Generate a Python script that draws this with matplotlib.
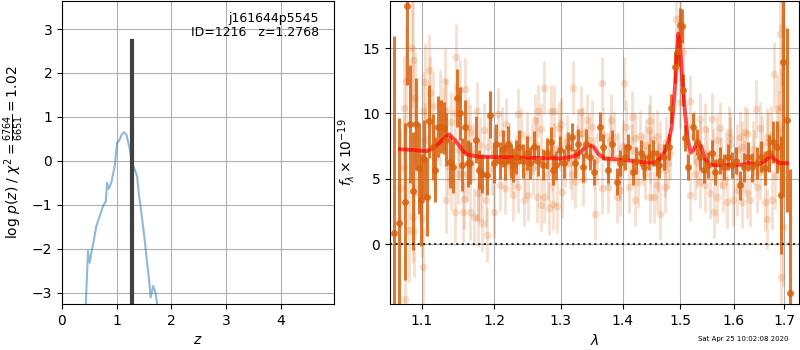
import matplotlib
matplotlib.use("Agg")
import matplotlib.pyplot as plt
from matplotlib.ticker import FixedLocator, FixedFormatter, NullLocator

# ---- p(z) panel ----
z_pz = [0.43, 0.475, 0.506, 0.537, 0.585, 0.628, 0.66, 0.69, 0.75, 0.80, 0.823, 0.854,
        0.90, 0.963, 1.006, 1.04, 1.085, 1.128, 1.177, 1.238, 1.287, 1.33, 1.372, 1.408,
        1.45, 1.51, 1.555, 1.59, 1.62, 1.665, 1.707, 1.756]
logpz = [-3.4, -2.05, -2.32, -2.09, -1.79, -1.48, -1.37, -1.26, -1.03, -0.92, -0.5, -0.64,
         -0.5, -0.12, 0.41, 0.45, 0.58, 0.65, 0.6, 0.26, -0.08, -0.2, -0.35, -0.8,
         -1.18, -1.79, -2.32, -2.7, -3.11, -2.85, -3.0, -3.4]
z_best = 1.2768
pz_top = 2.73
obj_text = "j161644p5545\nID=1216   z=1.2768"
chi2_label = r"log $p(z)$ / $\chi^2=\frac{6764}{6651}=1.02$"

# ---- spectrum panel: dark (first beam) ----
lam_a = [1.064, 1.071, 1.078, 1.081, 1.085, 1.089, 1.093, 1.096, 1.099, 1.103, 1.107, 1.110,
         1.1145, 1.118, 1.122, 1.1265, 1.1295, 1.133, 1.138, 1.142, 1.148, 1.152, 1.1545, 1.1585,
         1.163, 1.166, 1.1735, 1.178, 1.183, 1.190, 1.194, 1.1995, 1.203, 1.2085, 1.213, 1.216,
         1.2205, 1.2245, 1.228, 1.232, 1.237, 1.242, 1.248, 1.2527, 1.259, 1.265, 1.272, 1.278,
         1.284, 1.288, 1.293, 1.2985, 1.305, 1.311, 1.317, 1.322, 1.327, 1.335, 1.340, 1.346,
         1.3525, 1.3625, 1.368, 1.376, 1.3825, 1.391, 1.3955, 1.404, 1.4095, 1.418, 1.4235, 1.4305,
         1.436, 1.4445, 1.452, 1.459, 1.4625, 1.4713, 1.480, 1.4845, 1.4905, 1.4955, 1.4995, 1.504,
         1.5055, 1.509, 1.515, 1.524, 1.530, 1.536, 1.5435, 1.5515, 1.558, 1.5643, 1.5737, 1.581,
         1.589, 1.5955, 1.6042, 1.612, 1.6197, 1.628, 1.6347, 1.6445, 1.6525, 1.661, 1.669, 1.6777,
         1.6858, 1.6932, 1.6979, 1.706, 1.7116]
flux_a = [0.9, 1.65, 3.25, 18.2, 9.2, 4.1, 9.2, 5.8, 3.4, 6.5, 3.6, 9.4,
          7.45, 5.7, 9.0, 9.0, 8.9, 8.0, 6.3, 5.9, 11.2, 10.0, 6.1, 9.0,
          6.2, 6.2, 8.0, 5.7, 5.4, 5.3, 9.9, 6.2, 7.7, 6.4, 7.3, 6.3,
          7.65, 6.4, 6.05, 6.7, 7.45, 6.4, 6.95, 6.2, 7.45, 6.4, 6.1, 6.95,
          7.8, 5.7, 6.05, 7.2, 6.2, 7.45, 8.2, 6.2, 7.7, 5.9, 7.7, 6.7,
          5.5, 9.0, 7.45, 5.7, 7.7, 4.8, 6.2, 6.7, 7.45, 5.5, 6.4, 6.95,
          5.9, 6.7, 6.95, 6.2, 6.05, 6.7, 7.45, 10.4, 13.55, 14.8, 16.75, 16.7,
          11.8, 8.1, 5.9, 9.0, 7.8, 6.7, 5.7, 6.05, 6.95, 5.5, 6.4, 5.9,
          6.7, 6.05, 6.4, 4.5, 5.9, 6.7, 5.9, 6.2, 6.7, 5.8, 6.95, 7.8,
          7.45, 3.75, 13.9, 9.5, -3.75]
err_a = [15, 8, 6, 6, 4.5, 4.5, 3.5, 3.5, 3.5, 3.0, 3.0, 2.8,
         2.5, 2.5, 2.3, 2.0, 2.0, 2.0, 2.0, 2.0, 2.2, 2.0, 2.0, 2.0,
         1.8, 1.6, 1.8, 1.5, 1.5, 1.5, 1.8, 1.5, 1.5, 1.4, 1.4, 1.4,
         1.4, 1.3, 1.3, 1.3, 1.3, 1.3, 1.3, 1.2, 1.2, 1.2, 1.2, 1.2,
         1.2, 1.2, 1.1, 1.1, 1.1, 1.1, 1.1, 1.1, 1.1, 1.1, 1.1, 1.0,
         1.0, 1.1, 1.0, 1.0, 1.0, 1.0, 1.0, 1.0, 1.0, 1.0, 1.0, 1.0,
         1.0, 1.0, 1.0, 1.0, 1.0, 1.0, 1.0, 1.1, 1.2, 1.2, 1.3, 1.3,
         1.2, 1.0, 1.0, 1.0, 1.0, 1.0, 1.0, 1.0, 1.0, 1.0, 1.0, 1.0,
         1.0, 1.0, 1.0, 1.1, 1.1, 1.1, 1.1, 1.2, 1.2, 1.3, 1.4, 1.6,
         2.0, 4.5, 10, 7, 9.5]

# ---- spectrum panel: light (second beam) ----
lam_b = [1.087, 1.088, 1.080, 1.091, 1.077, 1.102, 1.104, 1.110, 1.111, 1.1145, 1.133, 1.131,
         1.1465, 1.152, 1.159, 1.145, 1.140, 1.089, 1.084, 1.090, 1.102, 1.078, 1.100, 1.132,
         1.145, 1.1555, 1.1656, 1.1712, 1.177, 1.183, 1.190, 1.157, 1.140, 1.149, 1.161, 1.1775,
         1.1797, 1.188, 1.1995, 1.2085, 1.2157, 1.227, 1.2352, 1.243, 1.175, 1.194, 1.206, 1.2165,
         1.2355, 1.240, 1.248, 1.1656, 1.180, 1.1905, 1.0765, 1.0717, 1.0925, 1.1244, 1.129,
         1.274, 1.3185, 1.365, 1.4025, 1.2655, 1.284, 1.289, 1.297, 1.2603, 1.332, 1.341, 1.381,
         1.4155, 1.447, 1.4065, 1.421, 1.4457, 1.4585, 1.250, 1.264, 1.269, 1.2745, 1.282, 1.288,
         1.294, 1.3025, 1.3222, 1.335, 1.355, 1.3665, 1.3762, 1.390, 1.3956, 1.411, 1.4215, 1.4469,
         1.317, 1.3065, 1.2855, 1.2577, 1.3527, 1.3382, 1.396, 1.4265, 1.4382, 1.368, 1.3789, 1.3275,
         1.2986, 1.4925, 1.4995, 1.498, 1.5055, 1.4998, 1.518, 1.5363, 1.5582, 1.5737, 1.5927, 1.6119,
         1.6216, 1.6432, 1.6511, 1.664, 1.679, 1.6843, 1.694, 1.6945, 1.6912, 1.6926, 1.698, 1.454,
         1.4585, 1.4731, 1.4735, 1.4643, 1.4469, 1.518, 1.5272, 1.5363, 1.5456, 1.5549, 1.5624, 1.5675,
         1.579, 1.5875, 1.598, 1.6055, 1.6155, 1.6255, 1.6305, 1.645, 1.661, 1.6655, 1.6745, 1.4643,
         1.482, 1.512, 1.5363, 1.5675, 1.5927, 1.6155, 1.638, 1.6675, 1.688, 1.200, 1.225, 1.255,
         1.280, 1.310, 1.345, 1.375, 1.400, 1.430, 1.460, 1.550, 1.585, 1.620, 1.650, 1.690,
         1.105, 1.118, 1.125, 1.135, 1.150, 1.163, 1.170, 1.185, 1.197, 1.212, 1.222, 1.232,
         1.245, 1.262, 1.270, 1.290, 1.300, 1.315, 1.325, 1.333, 1.350, 1.358, 1.385, 1.392,
         1.415, 1.435, 1.440, 1.452, 1.475, 1.478, 1.525, 1.530, 1.545, 1.560, 1.575, 1.590,
         1.605, 1.625, 1.640, 1.655, 1.672, 1.680]
flux_b = [15.0, 14.1, 12.5, 11.2, 10.4, 10.2, 12.4, 13.3, 11.6, 10.6, 10.2, 12.5,
          14.3, 11.8, 11.9, 10.0, 9.35, 2.1, 1.1, 1.0, -1.7, -4.2, 2.0, 3.4,
          2.5, 2.5, 2.5, 2.1, 2.0, 1.65, 0.75, 3.45, 4.95, 5.4, 5.4, 3.9,
          4.4, 3.4, 2.5, 4.55, 4.3, 3.75, 4.4, 3.4, 10.2, 9.7, 9.95, 9.2,
          9.95, 8.4, 8.1, 8.6, 7.6, 7.4, 5.9, 4.3, 6.7, 8.45, 9.6,
          11.98, 11.98, 12.3, 12.3, 10.2, 10.2, 10.2, 8.9, 9.5, 10.1, 9.5, 9.5,
          9.7, 9.4, 9.0, 8.1, 8.7, 8.3, 3.75, 3.6, 3.0, 3.6, 2.75, 3.1,
          2.9, 4.0, 4.8, 4.9, 2.35, 4.3, 4.4, 3.6, 4.15, 4.4, 3.4, 3.6,
          5.4, 6.4, 6.05, 5.8, 6.2, 6.95, 5.4, 4.75, 5.4, 8.45, 7.95, 8.45,
          7.6, 17.2, 16.4, 15.35, 14.7, 10.9, 10.95, 9.6, 9.6, 8.9, 8.1, 8.2,
          8.6, 10.35, 8.9, 8.2, 12.99, 10.35, 10.5, 16.6, 16.1, -2.5, 1.35, 3.6,
          4.5, 4.4, 5.65, 2.3, 6.7, 3.75, 5.4, 4.75, 4.5, 3.9, 2.5, 3.6,
          4.5, 3.25, 3.4, 4.15, 3.25, 3.9, 3.4, 4.4, 3.25, 1.95, 3.4, 7.45,
          6.95, 7.7, 7.45, 7.95, 7.7, 7.45, 7.3, 7.8, 8.9, 7.0, 6.0, 7.3,
          5.4, 7.9, 8.0, 6.5, 7.5, 8.3, 6.0, 7.0, 6.5, 6.0, 5.5, 6.0,
          8.0, 6.6, 10.8, 6.0, 7.2, 9.0, 7.0, 8.7, 5.8, 8.5, 7.3, 6.3,
          5.6, 7.7, 8.8, 7.3, 9.2, 6.2, 7.1, 8.5, 9.0, 6.5, 8.2, 6.6,
          7.2, 6.5, 7.6, 8.0, 7.8, 6.2, 8.2, 6.3, 8.8, 6.8, 6.2, 8.6,
          7.2, 8.4, 6.6, 7.6, 8.3, 5.2]
err_b = [4.5, 4.5, 4.0, 3.5, 4.0, 3.0, 3.0, 2.8, 2.8, 2.6, 2.4, 2.5,
         2.5, 2.3, 2.3, 2.3, 2.3, 3.5, 4.0, 3.5, 3.0, 5.0, 3.0, 2.5,
         2.4, 2.3, 2.2, 2.2, 2.2, 2.2, 2.1, 2.3, 2.3, 2.3, 2.2, 2.1,
         2.1, 2.1, 2.0, 2.0, 2.0, 2.0, 2.0, 2.0, 2.2, 2.0, 2.0, 2.0,
         2.0, 2.0, 2.0, 2.1, 2.1, 2.0, 4.0, 4.5, 3.0, 2.5, 2.5,
         2.0, 2.0, 2.0, 2.0, 2.0, 2.0, 2.0, 2.0, 2.0, 2.0, 2.0, 2.0,
         2.0, 2.0, 2.0, 2.0, 2.0, 2.0, 2.0, 2.0, 2.0, 2.0, 2.0, 2.0,
         2.0, 2.0, 2.0, 2.0, 2.0, 2.0, 2.0, 2.0, 2.0, 2.0, 2.0, 2.0,
         2.0, 2.0, 2.0, 2.0, 2.0, 2.0, 2.0, 2.0, 2.0, 2.0, 2.0, 2.0,
         2.0, 2.2, 2.2, 2.2, 2.2, 2.0, 2.0, 2.0, 2.0, 2.0, 2.0, 2.0,
         2.0, 2.2, 2.0, 2.2, 2.5, 2.5, 3.0, 4.5, 4.5, 5.0, 4.5, 2.0,
         2.0, 2.0, 2.0, 2.0, 2.0, 2.0, 2.0, 2.0, 2.0, 2.0, 2.0, 2.0,
         2.0, 2.0, 2.0, 2.0, 2.0, 2.0, 2.0, 2.0, 2.2, 2.3, 2.3, 2.0,
         2.0, 2.0, 2.0, 2.0, 2.0, 2.0, 2.1, 2.3, 2.8, 2.0, 2.0, 2.0,
         2.0, 2.0, 2.0, 2.0, 2.0, 2.0, 2.0, 2.0, 2.0, 2.0, 2.1, 2.8,
         2.8, 2.5, 2.5, 2.3, 2.3, 2.2, 2.2, 2.1, 2.0, 2.0, 2.0, 2.0,
         2.0, 2.0, 2.0, 2.0, 2.0, 2.0, 2.0, 2.0, 2.0, 2.0, 2.0, 2.0,
         2.0, 2.0, 2.0, 2.0, 2.0, 2.0, 2.0, 2.0, 2.0, 2.0, 2.0, 2.0,
         2.0, 2.0, 2.1, 2.2, 2.3, 2.5]

# ---- best-fit model ----
lam_model = [1.0716, 1.09, 1.107, 1.118, 1.128, 1.137, 1.147, 1.155, 1.161, 1.179, 1.22, 1.252,
             1.302, 1.318, 1.329, 1.34, 1.346, 1.352, 1.36, 1.37, 1.407, 1.438, 1.456, 1.466,
             1.474, 1.48, 1.485, 1.49, 1.494, 1.4965, 1.5, 1.504, 1.509, 1.514, 1.519, 1.524,
             1.529, 1.533, 1.538, 1.545, 1.552, 1.56, 1.6, 1.62, 1.629, 1.636, 1.65, 1.662,
             1.672, 1.68, 1.69, 1.705]
flux_model = [7.27, 7.2, 7.12, 7.45, 8.0, 8.4, 7.83, 7.2, 6.87, 6.69, 6.65, 6.61,
              6.56, 6.7, 6.94, 7.5, 7.58, 7.45, 6.9, 6.56, 6.43, 6.25, 6.25, 6.6,
              7.2, 8.0, 9.0, 11.5, 14.5, 16.1, 15.2, 12.5, 10.0, 8.0, 7.0, 7.2,
              7.6, 7.8, 7.5, 6.6, 6.15, 6.05, 6.05, 6.1, 6.25, 6.1, 6.15, 6.4,
              6.8, 6.5, 6.2, 6.2]

lam_ticks = [1.1, 1.2, 1.3, 1.4, 1.5, 1.6, 1.7]
timestamp = "Sat Apr 25 10:02:08 2020"

dark = "#d9620f"

fig = plt.figure(figsize=(8, 3.5), dpi=100)
ax1 = fig.add_axes([0.0775, 0.1314, 0.34, 0.866])
ax2 = fig.add_axes([0.4875, 0.1314, 0.51125, 0.866])

# p(z)
ax1.plot(z_pz, logpz, color="#1f77b4", alpha=0.5, lw=1.5)
ax1.plot([z_best, z_best], [-3.26, pz_top], color="0.25", lw=3)
ax1.text(0.945, 0.965, obj_text, ha="right", va="top", transform=ax1.transAxes,
         fontsize=9, linespacing=1.1)
ax1.set_xlim(0, 4.97)
ax1.set_ylim(-3.26, 3.64)
ax1.set_xticks([0, 1, 2, 3, 4])
ax1.set_xlabel(r"$z$")
ax1.set_ylabel(chi2_label)
ax1.grid()

# spectrum
ax2.errorbar(lam_b, flux_b, yerr=err_b, marker="o", ms=5.5, linestyle="none",
             color=dark, alpha=0.2, elinewidth=2, capsize=0, mew=0)
ax2.errorbar(lam_a, flux_a, yerr=err_a, marker="o", ms=5, linestyle="none",
             color=dark, alpha=0.85, elinewidth=2.2, capsize=0, mew=0)
ax2.plot(lam_model, flux_model, color="red", alpha=0.7, lw=2.8)
ax2.axhline(0, color="k", linestyle=":", lw=1.5, alpha=0.8)
ax2.set_xscale("log")
ax2.set_xlim(1.059, 1.730)
ax2.set_ylim(-4.56, 18.6)
ax2.xaxis.set_major_locator(FixedLocator(lam_ticks))
ax2.xaxis.set_major_formatter(FixedFormatter([f"{t:.1f}" for t in lam_ticks]))
ax2.xaxis.set_minor_locator(NullLocator())
ax2.set_yticks([0, 5, 10, 15])
ax2.set_xlabel(r"$\lambda$")
ax2.set_ylabel(r"$f_\lambda\times10^{-19}$")
ax2.grid()

fig.text(0.985, 0.022, timestamp, ha="right", va="bottom", fontsize=5)

fig.savefig("out.png", dpi=100)
